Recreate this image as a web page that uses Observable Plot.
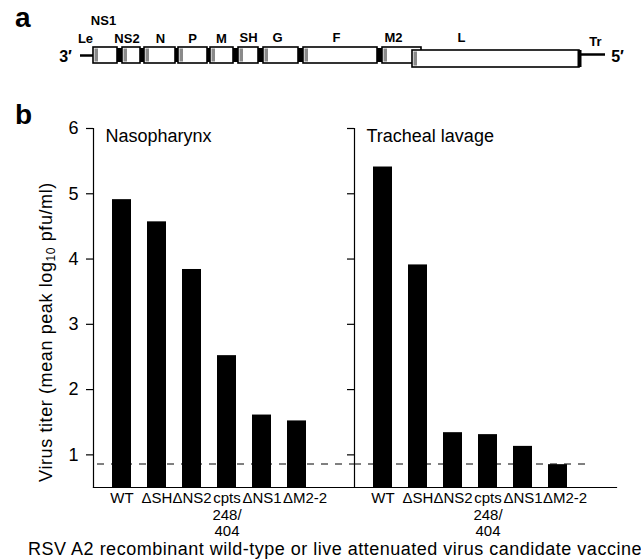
<!DOCTYPE html>
<html><head><meta charset="utf-8">
<script src="https://cdn.jsdelivr.net/npm/d3@7"></script>
<script src="https://cdn.jsdelivr.net/npm/@observablehq/plot@0.6"></script>
<style>
body{margin:0;background:#fff;}
#root{position:relative;width:641px;height:560px;overflow:hidden;font-family:"Liberation Sans",Arial,Helvetica,sans-serif;color:#000;}
#root svg{position:absolute;}
.abs{position:absolute;white-space:nowrap;}
</style></head><body><div id="root"></div>
<script>
// ---------- Panel a: RSV genome map (map units) ----------
const genes      = ["NS1","NS2","N","P","M","SH","G","F","M2","L"];
const geneStart  = [93, 122, 144, 178, 210, 238, 263, 303, 382, 412];
const geneEnd    = [117, 140, 175, 207, 233, 258, 298, 377, 421, 579];
const geneTop    = [47, 47, 47, 47, 47, 47, 47, 47, 47, 50];
const geneBottom = [63, 63, 63, 63, 63, 63, 63, 63, 63, 67];
const labelText  = ["NS1","Le","NS2","N","P","M","SH","G","F","M2","L","Tr"];
const labelX     = [103, 85, 126.5, 160, 192, 221, 248, 277, 336, 393, 461, 595];
const labelY     = [20, 38, 38, 38, 38, 38, 37, 37, 37, 37, 37, 41];
const endText    = ["3′","5′"];
const endX       = [65, 617];
const endY       = [56, 56];
const leaderX    = [80, 93];   const leaderY = 55;
const trailerX   = [579, 605]; const trailerY = 54;
const mapDomainX = [0, 641];
const mapDomainY = [0, 80];

// ---------- Panel b: bar chart data ----------
const sites = ["Nasopharynx", "Tracheal lavage"];
const viruses = ["WT", "ΔSH", "ΔNS2", "cpts\n248/\n404", "ΔNS1", "ΔM2-2"];
const nasopharynx    = [4.91, 4.57, 3.84, 2.52, 1.61, 1.52];
const trachealLavage = [5.41, 3.91, 1.34, 1.31, 1.13, 0.85];
const yTicks = [1, 2, 3, 4, 5, 6];
const yDomain = [0.5, 6];
const detectionLimit = 0.86;

const FONT = '"Liberation Sans", Arial, Helvetica, sans-serif';
const root = document.getElementById("root");

// ---- genome diagram ----
const geneData = genes.map((g, i) => ({g, x1: geneStart[i], x2: geneEnd[i], y1: geneTop[i], y2: geneBottom[i]}));
const junctions = [];
for (let i = 0; i < genes.length - 2; i++) {
  junctions.push({x1: geneEnd[i], x2: geneStart[i + 1], y1: geneTop[i] + 1, y2: geneBottom[i] - 1});
}
const labels = labelText.map((t, i) => ({t, x: labelX[i], y: labelY[i]}));
const endLabels = endText.map((t, i) => ({t, x: endX[i], y: endY[i]}));
const lastGene = geneData[geneData.length - 1];

const mapPlot = Plot.plot({
  width: 641, height: 80,
  marginLeft: 0, marginRight: 0, marginTop: 0, marginBottom: 0,
  style: {background: "none", fontFamily: FONT},
  x: {domain: mapDomainX, range: [0, 641], axis: null},
  y: {domain: mapDomainY, range: [0, 80], axis: null},
  marks: [
    Plot.ruleY([leaderY], {x1: leaderX[0], x2: leaderX[1], stroke: "#000", strokeWidth: 2.5}),
    Plot.ruleY([trailerY], {x1: trailerX[0], x2: trailerX[1], stroke: "#000", strokeWidth: 2.5}),
    Plot.rect(junctions, {x1: "x1", x2: "x2", y1: "y1", y2: "y2", fill: "#000"}),
    Plot.rect(geneData, {x1: "x1", x2: "x2", y1: "y1", y2: "y2", fill: "#fff", stroke: "#000", strokeWidth: 1.6}),
    Plot.rect(geneData, {x1: "x1", x2: d => d.x1 + 5, y1: "y1", y2: "y2", fill: "#8a8a8a", insetLeft: 1.5, insetTop: 1.5, insetBottom: 1.5}),
    Plot.ruleX([lastGene], {x: "x2", y1: "y1", y2: "y2", stroke: "#000", strokeWidth: 4}),
    Plot.text(labels, {x: "x", y: "y", text: "t", fontSize: 13, fontWeight: "bold", fill: "#000"}),
    Plot.text(endLabels, {x: "x", y: "y", text: "t", fontSize: 16, fontWeight: "bold", fill: "#000"})
  ]
});
mapPlot.style.left = "0px"; mapPlot.style.top = "0px";
root.appendChild(mapPlot);

// ---- bar chart panels ----
function panel(site, values, o) {
  const data = viruses.map((v, i) => ({virus: v, titer: values[i]}));
  const lastVirus = viruses[viruses.length - 1];
  return Plot.plot({
    width: o.width, height: 440,
    marginLeft: o.ml, marginRight: o.mr, marginTop: 28, marginBottom: 53,
    style: {background: "none", fontFamily: FONT, color: "#000", overflow: "visible"},
    x: {domain: viruses, paddingInner: 0.468, paddingOuter: 0.89, align: 0.283, label: null},
    y: {domain: yDomain, label: null},
    marks: [
      Plot.barY(data, {x: "virus", y1: () => yDomain[0], y2: "titer", fill: "#000"}),
      Plot.ruleY([detectionLimit], {stroke: "#000", strokeWidth: 1, strokeDasharray: "7,7", insetLeft: o.il, insetRight: o.ir}),
      Plot.frame({anchor: "left", stroke: "#000", strokeWidth: 1.2}),
      Plot.frame({anchor: "bottom", stroke: "#000", strokeWidth: 1.2}),
      Plot.axisY(yTicks, {tickSize: 7, tickPadding: 8, fontSize: 18, strokeWidth: 1.2, label: null,
        tickFormat: o.showLabels ? (d => String(d)) : (() => "")}),
      Plot.axisX(viruses.slice(0, -1), {tickSize: 0, tickPadding: 4, fontSize: 15, lineHeight: 1.1, label: null}),
      Plot.axisX([lastVirus], {tickSize: 0, tickPadding: 4, fontSize: 15, lineHeight: 1.1, label: null, dx: o.lastDx}),
      Plot.text([site], {text: d => d, frameAnchor: "top-left", dx: 12, dy: 1, lineAnchor: "top", fontSize: 18, fill: "#000"})
    ]
  });
}
const left = panel(sites[0], nasopharynx, {width: 354, ml: 93, mr: 0, il: 4, ir: 0, showLabels: true, lastDx: 8});
left.style.left = "0px"; left.style.top = "100px";
root.appendChild(left);
const right = panel(sites[1], trachealLavage, {width: 297, ml: 10, mr: 25, il: 0, ir: 24, showLabels: false, lastDx: 7});
right.style.left = "344px"; right.style.top = "100px";
root.appendChild(right);

// ---- html texts ----
function addText(html, css) {
  const d = document.createElement("div");
  d.className = "abs";
  d.innerHTML = html;
  Object.assign(d.style, css);
  root.appendChild(d);
}
addText("a", {left: "15px", top: "4px", fontSize: "28px", fontWeight: "bold", lineHeight: "28px"});
addText("b", {left: "15px", top: "101px", fontSize: "28px", fontWeight: "bold", lineHeight: "28px"});
addText("Virus titer (mean peak log<sub style='font-size:12px;vertical-align:-3px'>10</sub> pfu/ml)",
  {left: "48px", top: "332px", fontSize: "18px", letterSpacing: "0.6px", lineHeight: "20px", transform: "translate(-50%,-50%) rotate(-90deg)"});
addText("RSV A2 recombinant wild-type or live attenuated virus candidate vaccine",
  {left: "335px", top: "539px", fontSize: "18px", letterSpacing: "0.5px", lineHeight: "20px", transform: "translateX(-50%)"});
</script></body></html>
